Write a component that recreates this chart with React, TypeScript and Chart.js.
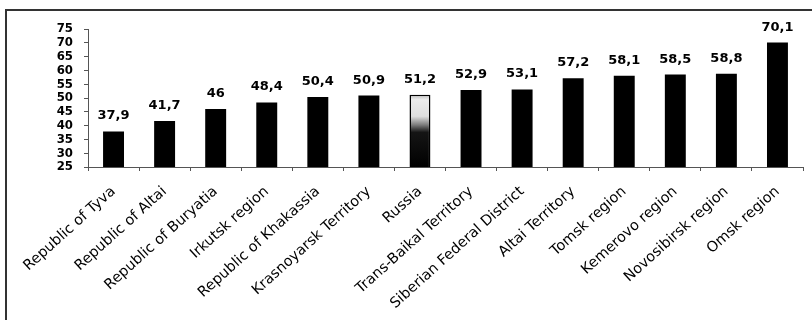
import React, { useEffect, useRef } from "react";
import { Chart, registerables } from "chart.js";

Chart.register(...registerables);

const regions: string[] = [
  "Republic of Tyva",
  "Republic of Altai",
  "Republic of Buryatia",
  "Irkutsk region",
  "Republic of Khakassia",
  "Krasnoyarsk Territory",
  "Russia",
  "Trans-Baikal Territory",
  "Siberian Federal District",
  "Altai Territory",
  "Tomsk region",
  "Kemerovo region",
  "Novosibirsk region",
  "Omsk region",
];

const values: number[] = [37.9, 41.7, 46, 48.4, 50.4, 50.9, 51.2, 52.9, 53.1, 57.2, 58.1, 58.5, 58.8, 70.1];

const yMin = 25;
const yMax = 75;
const yStep = 5;

const formatValue = (v: number) => String(v).replace(".", ",");

const valueLabels = {
  id: "valueLabels",
  afterDatasetsDraw(chart: any) {
    const { ctx } = chart;
    const meta = chart.getDatasetMeta(0);
    ctx.save();
    ctx.fillStyle = "#000";
    ctx.textAlign = "center";
    ctx.textBaseline = "alphabetic";
    ctx.font = "bold 13px 'DejaVu Sans'";
    meta.data.forEach((bar: any, i: number) => {
      ctx.fillText(formatValue(values[i]), bar.x, bar.y - 12);
    });
    ctx.restore();
  },
};

export default function App() {
  const canvasRef = useRef<HTMLCanvasElement | null>(null);

  useEffect(() => {
    const canvas = canvasRef.current;
    if (!canvas) return;

    const barFill = (context: any) => {
      const label = regions[context.dataIndex];
      if (label !== "Russia") return "#000";
      const chart = context.chart;
      if (!chart.chartArea) return "#000";
      const yScale = chart.scales.y;
      const top = yScale.getPixelForValue(values[context.dataIndex]);
      const bottom = yScale.getPixelForValue(yMin);
      const g = chart.ctx.createLinearGradient(0, top, 0, bottom);
      g.addColorStop(0, "#bdbdbd");
      g.addColorStop(0.07, "#ececec");
      g.addColorStop(0.3, "#dedede");
      g.addColorStop(0.42, "#7a7a7a");
      g.addColorStop(0.52, "#151515");
      g.addColorStop(1, "#000");
      return g;
    };

    const chart = new Chart(canvas, {
      type: "bar",
      data: {
        labels: regions,
        datasets: [
          {
            data: values,
            backgroundColor: barFill,
            borderColor: "#000",
            borderWidth: (ctx: any) => (regions[ctx.dataIndex] === "Russia" ? 1.5 : 0),
            barPercentage: 0.82,
            categoryPercentage: 0.5,
          },
        ],
      },
      options: {
        responsive: false,
        animation: false,
        devicePixelRatio: 1,
        layout: { padding: { top: 29, right: 9, left: 0, bottom: 0 } },
        plugins: {
          legend: { display: false },
          tooltip: { enabled: false },
        },
        scales: {
          x: {
            grid: {
              display: true,
              drawOnChartArea: false,
              drawTicks: true,
              tickLength: 4,
              color: "#555",
              offset: true,
            },
            border: { display: true, color: "#555", width: 1 },
            ticks: {
              color: "#000",
              font: { family: "'DejaVu Sans'", size: 14.5 },
              minRotation: 42,
              maxRotation: 42,
              autoSkip: false,
              padding: 12,
            },
            afterFit(scale: any) {
              scale.height = 320 - 167;
            },
          },
          y: {
            min: yMin,
            max: yMax,
            grid: {
              display: true,
              drawOnChartArea: false,
              drawTicks: true,
              tickLength: 4,
              color: "#555",
            },
            border: { display: true, color: "#555", width: 1 },
            ticks: {
              stepSize: yStep,
              autoSkip: false,
              color: "#000",
              padding: 11,
              font: { family: "'DejaVu Sans Condensed'", size: 13, weight: "bold", lineHeight: 1 },
            },
            afterFit(scale: any) {
              scale.width = 88;
            },
          },
        },
      },
      plugins: [valueLabels],
    });

    return () => chart.destroy();
  }, []);

  return (
    <div style={{ position: "fixed", left: 0, top: 0, width: 812, height: 320, background: "#fff", overflow: "hidden" }}>
      <div
        style={{
          position: "absolute",
          left: 5,
          top: 9,
          right: 0,
          bottom: 0,
          borderLeft: "2px solid #333",
          borderTop: "2px solid #333",
        }}
      />
      <canvas ref={canvasRef} width={812} height={320} style={{ position: "absolute", left: 0, top: 0 }} />
    </div>
  );
}
